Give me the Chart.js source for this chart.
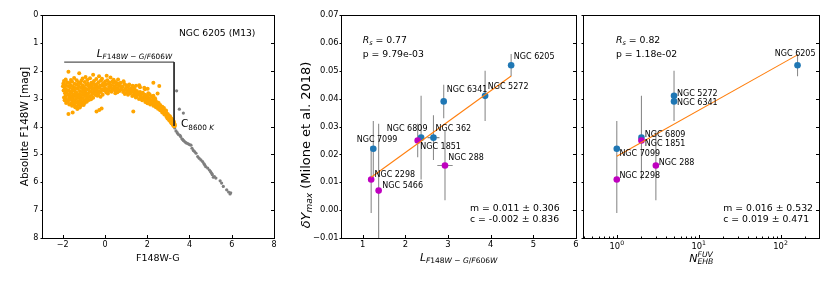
<!DOCTYPE html>
<html>
<head>
<meta charset="utf-8">
<script src="https://cdn.jsdelivr.net/npm/chart.js@4.4.0/dist/chart.umd.min.js"></script>
<style>
  body { margin: 0; background: #fff; }
  #wrap { position: relative; width: 830px; height: 298px; }
  #wrap canvas { position: absolute; left: 0; top: 0; }
</style>
</head>
<body>
<div id="wrap">
  <canvas id="cmd" width="830" height="298"></canvas>
  <canvas id="fitL" width="830" height="298"></canvas>
  <canvas id="fitN" width="830" height="298"></canvas>
</div>
<script>
// ---- panel 1: colour-magnitude diagram of NGC 6205 ----
const hbStars = [
  [-1.73,2.04],[-1.22,2.09],[-0.56,2.14],[-0.28,2.20],[0.08,2.18],[-0.92,2.22],[-1.46,2.26],[-0.71,2.27],[0.26,2.24],[-1.06,2.28],
  [-1.86,2.31],[-1.61,2.33],[-0.41,2.30],[0.41,2.32],[-0.14,2.29],[0.62,2.31],[-1.94,2.37],[-1.34,2.34],[-1.12,2.36],[-0.84,2.33],[-0.52,2.37],[-0.19,2.35],[0.11,2.34],[0.36,2.38],
  [-1.79,2.41],[-1.56,2.39],[-1.26,2.42],[-0.96,2.40],[-0.64,2.43],[-0.31,2.41],[0.01,2.39],[0.23,2.42],[0.51,2.40],[0.74,2.43],[0.88,2.38],
  [-1.97,2.46],[-1.69,2.44],[-1.44,2.47],[-1.16,2.45],[-0.81,2.46],[-0.56,2.44],[-0.39,2.48],[-0.09,2.45],[0.16,2.47],[0.39,2.44],[0.61,2.46],[0.91,2.47],[2.29,2.43],[1.15,2.49],
  [-1.88,2.51],[-1.61,2.52],[-1.34,2.50],[-1.06,2.53],[-0.89,2.50],[-0.69,2.52],[-0.46,2.51],[-0.21,2.53],[0.04,2.50],[0.29,2.52],[0.54,2.51],[0.71,2.53],[1.01,2.52],[1.62,2.52],
  [-1.99,2.56],[-1.76,2.55],[-1.51,2.57],[-1.24,2.55],[-1.01,2.58],[-0.76,2.56],[-0.61,2.54],[-0.36,2.57],[-0.06,2.55],[0.19,2.58],[0.44,2.56],[0.66,2.55],[0.84,2.57],[1.09,2.56],[2.57,2.55],[1.38,2.58],
  [1.31,2.54],[1.47,2.54],[1.66,2.59],[1.89,2.66],[2.05,2.81],[2.29,2.90],
  [-1.91,2.61],[-1.66,2.60],[-1.41,2.62],[-1.14,2.61],[-0.94,2.63],[-0.71,2.60],[-0.49,2.62],[-0.26,2.61],[0.01,2.63],[0.24,2.60],[0.49,2.62],[0.61,2.64],[0.79,2.61],[0.99,2.63],[1.24,2.62],[1.86,2.61],
  [-1.84,2.66],[-1.54,2.67],[-1.29,2.65],[-1.04,2.68],[-0.84,2.66],[-0.59,2.65],[-0.41,2.67],[-0.14,2.66],[0.11,2.68],[0.34,2.65],[0.56,2.67],[0.76,2.66],[0.96,2.68],[1.16,2.66],[1.41,2.67],[2.02,2.65],
  [-1.96,2.71],[-1.71,2.72],[-1.46,2.70],[-1.19,2.73],[-0.96,2.71],[-0.74,2.72],[-0.51,2.70],[-0.29,2.73],[-0.04,2.71],[0.21,2.72],[0.46,2.70],[0.69,2.73],[0.89,2.71],[1.11,2.72],[1.31,2.70],[1.51,2.73],
  [-1.81,2.76],[-1.59,2.75],[-1.36,2.77],[-1.09,2.76],[-0.91,2.78],[-0.66,2.75],[-0.39,2.77],[-0.19,2.76],[0.06,2.78],[0.31,2.75],[0.59,2.77],[0.86,2.76],[1.04,2.78],[1.26,2.75],[1.44,2.77],[1.66,2.76],[1.79,2.79],
  [-1.89,2.81],[-1.64,2.82],[-1.41,2.80],[-1.21,2.83],[-0.99,2.81],[-0.79,2.82],[-0.54,2.80],[-0.31,2.83],[0.14,2.82],[0.49,2.81],[0.94,2.83],[1.19,2.81],[1.39,2.82],[1.59,2.80],[1.74,2.83],[2.49,2.82],
  [-1.74,2.86],[-1.49,2.85],[-1.31,2.87],[-1.06,2.86],[-0.86,2.88],[-0.61,2.85],[-0.44,2.87],[-0.11,2.86],[1.09,2.86],[1.34,2.88],[1.54,2.85],[1.69,2.87],[1.89,2.86],[2.11,2.84],
  [-1.86,2.91],[-1.61,2.92],[-1.39,2.90],[-1.16,2.93],[-0.94,2.91],[-0.71,2.92],[-0.36,2.90],[1.29,2.91],[1.49,2.92],[1.66,2.90],[1.84,2.93],[1.99,2.91],[2.21,2.92],[-0.21,2.93],
  [-1.94,2.96],[-1.69,2.95],[-1.51,2.97],[-1.26,2.96],[-1.04,2.98],[-0.81,2.95],[-0.56,2.97],[1.46,2.96],[1.71,2.98],[1.89,2.95],[2.06,2.97],[2.37,2.99],
  [-1.84,3.01],[-1.59,3.02],[-1.36,3.00],[-1.14,3.03],[-0.89,3.01],[-0.66,3.02],[1.61,3.01],[1.81,3.02],[1.99,3.00],[2.14,3.03],[2.29,3.01],
  [-1.91,3.06],[-1.71,3.05],[-1.46,3.07],[-1.19,3.06],[-0.99,3.08],[-0.76,3.05],[1.76,3.06],[1.94,3.07],[2.09,3.05],[2.24,3.08],[2.39,3.06],
  [-1.76,3.11],[-1.54,3.12],[-1.29,3.10],[-1.09,3.13],[-0.86,3.11],[1.91,3.12],[2.04,3.10],[2.19,3.13],[2.34,3.11],[2.49,3.14],
  [-1.84,3.16],[-1.61,3.17],[-1.39,3.15],[-1.21,3.18],[-0.96,3.16],[2.01,3.17],[2.21,3.16],[2.39,3.18],[2.54,3.16],
  [-1.69,3.21],[-1.46,3.22],[-1.24,3.20],[-1.01,3.23],[2.14,3.21],[2.31,3.22],[2.49,3.20],[2.61,3.23],
  [-1.56,3.26],[-1.34,3.27],[-1.14,3.25],[2.29,3.26],[2.44,3.28],[2.59,3.26],[2.71,3.29],
  [-1.41,3.31],[-1.19,3.32],[2.41,3.31],[2.56,3.33],[2.69,3.31],[2.79,3.34],
  [-1.31,3.37],[-0.16,3.35],[2.51,3.36],[2.66,3.38],[2.79,3.40],[2.89,3.43],
  [-0.27,3.41],[2.61,3.42],[2.76,3.46],[2.89,3.49],[2.97,3.55],
  [-0.40,3.46],[1.34,3.46],[2.71,3.50],[2.86,3.54],[2.99,3.60],[3.06,3.62],
  [-1.53,3.50],[2.81,3.57],[2.94,3.62],[3.09,3.66],
  [-1.73,3.55],[2.91,3.65],[3.01,3.69],[3.14,3.71],
  [2.96,3.71],[3.11,3.75],[3.19,3.76],
  [3.04,3.78],[3.18,3.81],[3.26,3.82],
  [3.10,3.83],[3.24,3.86],
  [3.15,3.88],[3.28,3.89],
  [3.20,3.92],[3.30,3.93],
  [3.23,3.96],[3.31,3.97],
  [3.27,3.99]
];
const coolStars = [
  [3.39,2.72],[3.52,3.38],[3.71,3.52],[3.27,4.00],[3.30,4.05],[3.36,4.16],[3.42,4.22],[3.47,4.28],[3.55,4.32],
  [3.58,4.36],[3.64,4.44],[3.68,4.47],[3.71,4.50],[3.77,4.54],[3.83,4.58],[3.88,4.60],[3.94,4.62],[4.00,4.65],
  [4.07,4.67],[4.12,4.78],[4.18,4.86],[4.24,4.90],[4.31,4.96],[4.39,5.08],[4.46,5.14],[4.54,5.20],[4.62,5.26],
  [4.68,5.33],[4.72,5.38],[4.77,5.44],[4.86,5.49],[4.94,5.56],[5.00,5.62],[5.05,5.68],[5.08,5.73],[5.13,5.82],
  [5.18,5.80],[5.25,5.85],[5.45,5.95],[5.52,6.03],[5.60,6.15],[5.76,6.27],[5.85,6.35],[5.92,6.42],[5.95,6.38]
];
const bracketX = [-1.93, 3.27, 3.27];
const bracketY = [1.69, 1.69, 3.98];
const cmdXTicks = [-2, 0, 2, 4, 6, 8];
const cmdYTicks = [0, 1, 2, 3, 4, 5, 6, 7, 8];

// ---- panels 2 and 3: helium spread vs HB length / number of EHB stars ----
const clusters  = ['NGC 6205','NGC 5272','NGC 6341','NGC 362','NGC 6809','NGC 1851','NGC 7099','NGC 2298','NGC 5466','NGC 288'];
const hbLength  = [4.48, 3.87, 2.90, 2.66, 2.37, 2.29, 1.25, 1.20, 1.375, 2.93];
const hbLenErr  = [0, 0, 0, 0.14, 0, 0, 0, 0, 0, 0.18];
const nEHB      = [161, 5, 5, null, 2, 2, 1, 1, null, 3];
const deltaY    = [0.052, 0.041, 0.039, 0.026, 0.026, 0.025, 0.022, 0.011, 0.007, 0.016];
const deltaYErr = [0.004, 0.009, 0.006, 0.008, 0.015, 0.006, 0.010, 0.012, 0.024, 0.0125];
const group     = ['a','a','a','a','a','b','a','b','b','b'];
const fitLX = [1.2, 4.48],  fitLY = [0.0118, 0.0481];
const fitNX = [1, 161],     fitNY = [0.0193, 0.0557];
const dyTicks  = [-0.01, 0, 0.01, 0.02, 0.03, 0.04, 0.05, 0.06, 0.07];
const lenTicks = [1, 2, 3, 4, 5, 6];
const nTicks   = [1, 10, 100];
const nTickExp = ['0', '1', '2'];
const nMinor   = [0.4,0.5,0.6,0.7,0.8,0.9,2,3,4,5,6,7,8,9,20,30,40,50,60,70,80,90,200];
const statsL = { r: '0.77', p: '9.79e-03', m: '0.011 ± 0.306', c: '-0.002 ± 0.836' };
const statsN = { r: '0.82', p: '1.18e-02', m: '0.016 ± 0.532', c: '0.019 ± 0.471' };

// label offsets in pixels from the marker (text left, middle)
const offsL = {
  'NGC 6205': [2.7, -8], 'NGC 5272': [2.7, -8.6], 'NGC 6341': [3, -11], 'NGC 362': [2, -8.7],
  'NGC 6809': [-34.3, -8.7], 'NGC 1851': [2.6, 6], 'NGC 7099': [-16.6, -8.6], 'NGC 2298': [3.3, -4.3],
  'NGC 5466': [3.7, -4.6], 'NGC 288': [3.3, -8]
};
const offsN = {
  'NGC 6205': [-22.7, -11.3], 'NGC 5272': [3, -2.3], 'NGC 6341': [3, 1.3], 'NGC 6809': [3.3, -2.7],
  'NGC 1851': [3.3, 3.7], 'NGC 7099': [2.6, 5.3], 'NGC 288': [3, -2.4], 'NGC 2298': [2.6, -3.3]
};

const FONT = '"DejaVu Sans", sans-serif';
Chart.defaults.font.family = FONT;
Chart.defaults.color = '#000';
const groupColor = { a: '#1f77b4', b: '#bf00bf' };
const ERR = '#8c8c8c';

const fontOf = p => (p.it ? 'italic ' : '') + p.s + 'px ' + FONT;
function richWidth(ctx, parts) {
  let w = 0;
  for (const p of parts) { ctx.font = fontOf(p); if (!p.over) w += ctx.measureText(p.t).width; }
  return w;
}
function drawRich(ctx, x, y, parts, rot) {
  ctx.save();
  ctx.translate(x, y);
  if (rot) ctx.rotate(rot);
  ctx.fillStyle = '#000';
  ctx.textAlign = 'left';
  ctx.textBaseline = 'alphabetic';
  let cx = 0;
  for (const p of parts) {
    ctx.font = fontOf(p);
    ctx.fillText(p.t, cx, p.dy || 0);
    if (!p.over) cx += ctx.measureText(p.t).width;
  }
  ctx.restore();
}
// mathtext-like: letters italic, digits and symbols upright
function mathParts(str, s, dy) {
  return str.match(/[A-Za-z]+|[^A-Za-z]+/g).map(t => ({ t, s, dy, it: /[A-Za-z]/.test(t) }));
}

function frameAndTicks(ctx, a) {
  ctx.save();
  ctx.strokeStyle = '#000';
  ctx.lineWidth = 1;
  const l = Math.round(a.left) + 0.5, t = Math.round(a.top) + 0.5;
  const r = Math.round(a.right) + 0.5, b = Math.round(a.bottom) + 0.5;
  ctx.strokeRect(l, t, r - l, b - t);
  ctx.restore();
  return { l, t, r, b };
}
function ticks(ctx, f, scale, vals, side, len) {
  ctx.save();
  ctx.strokeStyle = '#000';
  ctx.lineWidth = 1;
  ctx.beginPath();
  for (const v of vals) {
    const p = Math.round(scale.getPixelForValue(v)) + 0.5;
    if (side === 'bottom') { ctx.moveTo(p, f.b); ctx.lineTo(p, f.b - len); }
    else if (side === 'left') { ctx.moveTo(f.l, p); ctx.lineTo(f.l + len, p); }
    else { ctx.moveTo(f.r, p); ctx.lineTo(f.r - len, p); }
  }
  ctx.stroke();
  ctx.restore();
}

function fixed(list) { return s => { s.ticks = list.map(v => ({ value: v })); }; }
const minus = v => (v < 0 ? '\u2212' + Math.abs(v) : String(v));
const base = { responsive: false, animation: false, events: [], devicePixelRatio: 1,
  plugins: { legend: { display: false }, tooltip: { enabled: false } } };
const noGrid = { grid: { display: false, drawTicks: false }, border: { display: false } };

// ---------------- panel 1 ----------------
new Chart(document.getElementById('cmd'), {
  type: 'scatter',
  data: { datasets: [
    { data: bracketX.map((x, i) => ({ x, y: bracketY[i] })), showLine: true, borderColor: '#2a2a2a',
      borderWidth: 1, pointRadius: 0, order: 0 },
    { data: hbStars.map(([x, y]) => ({ x, y })), backgroundColor: '#ffa500', borderWidth: 0, pointRadius: 2, order: 1 },
    { data: coolStars.map(([x, y]) => ({ x, y })), backgroundColor: '#7f7f7f', borderWidth: 0, pointRadius: 1.6, order: 2 }
  ] },
  options: Object.assign({}, base, {
    layout: { padding: { left: 0, top: 15, right: 556, bottom: 0 } },
    scales: {
      x: Object.assign({ type: 'linear', min: -3, max: 8, afterBuildTicks: fixed(cmdXTicks),
        afterFit: s => { s.height = 60; },
        ticks: { font: { size: 8 }, padding: 2, maxRotation: 0, autoSkip: false, callback: minus } }, noGrid),
      y: Object.assign({ type: 'linear', min: 0, max: 8, reverse: true, afterBuildTicks: fixed(cmdYTicks),
        afterFit: s => { s.width = 41.6; },
        ticks: { font: { size: 8 }, padding: 3.3, autoSkip: false, callback: minus } }, noGrid)
    }
  }),
  plugins: [{
    id: 'cmdDeco',
    afterDraw(chart) {
      const ctx = chart.ctx, a = chart.chartArea, sx = chart.scales.x, sy = chart.scales.y;
      const f = frameAndTicks(ctx, a);
      ticks(ctx, f, sx, cmdXTicks, 'bottom', 3.5);
      ticks(ctx, f, sy, cmdYTicks, 'right', 3.5);
      ticks(ctx, f, sy, cmdYTicks, 'left', -2);
      drawRich(ctx, 179, 36.4, [{ t: 'NGC 6205 (M13)', s: 9.2 }]);
      drawRich(ctx, 96.7, 57.3, [{ t: 'L', s: 10.5, it: true }].concat(mathParts('F148W \u2212 G/F606W', 7.3, 2)));
      drawRich(ctx, 181, 127.3, [{ t: 'C', s: 10.5 }].concat(mathParts('8600 K', 7.3, 2.2)));
      const xt = [{ t: 'F148W-G', s: 9.5 }];
      drawRich(ctx, (a.left + a.right) / 2 - richWidth(ctx, xt) / 2, 260.5, xt);
      const yt = [{ t: 'Absolute F148W [mag]', s: 10.4 }];
      drawRich(ctx, 28.3, (a.top + a.bottom) / 2 + richWidth(ctx, yt) / 2, yt, -Math.PI / 2);
    }
  }]
});

// ---------------- helpers for panels 2 and 3 ----------------
function errSegments(xs, errX, errY) {
  const out = [];
  clusters.forEach((_, i) => {
    const x = xs[i], y = deltaY[i];
    if (x == null) return;
    if (errY && errY[i]) out.push({ x, y: y - errY[i] }, { x, y: y + errY[i] }, { x, y: null });
    if (errX && errX[i]) out.push({ x: x - errX[i], y }, { x: x + errX[i], y }, { x, y: null });
  });
  return out;
}
function groupPoints(xs, g) {
  return clusters.map((_, i) => ({ x: xs[i], y: deltaY[i], g: group[i] }))
    .filter(p => p.x != null && p.g === g);
}
function fitDatasets(xs, errX, fx, fy) {
  return [
    { data: fx.map((x, i) => ({ x, y: fy[i] })), showLine: true, borderColor: '#ff7f0e', borderWidth: 1.1, pointRadius: 0, order: 0 },
    { data: groupPoints(xs, 'b'), backgroundColor: groupColor.b, borderWidth: 0, pointRadius: 3.3, order: 1 },
    { data: groupPoints(xs, 'a'), backgroundColor: groupColor.a, borderWidth: 0, pointRadius: 3.3, order: 2 },
    { data: errSegments(xs, errX, deltaYErr), showLine: true, spanGaps: false, borderColor: ERR, borderWidth: 1.1, pointRadius: 0, order: 3 }
  ];
}
function labelsAndStats(chart, xs, offs, stats) {
  const ctx = chart.ctx, a = chart.chartArea, sx = chart.scales.x, sy = chart.scales.y;
  ctx.save();
  ctx.font = '8px ' + FONT;
  ctx.fillStyle = '#000';
  ctx.textBaseline = 'middle';
  clusters.forEach((name, i) => {
    if (xs[i] == null || !offs[name]) return;
    const px = sx.getPixelForValue(xs[i]), py = sy.getPixelForValue(deltaY[i]);
    ctx.fillText(name, px + offs[name][0], py + offs[name][1]);
  });
  ctx.restore();
  const sl = stats.left, sm = stats.mLeft;
  drawRich(ctx, a.left + sl, 43.4, [{ t: 'R', s: 9.3, it: true }, { t: 's', s: 6.5, it: true, dy: 2 }, { t: ' = ' + stats.v.r, s: 9.3 }]);
  drawRich(ctx, a.left + sl, 56.7, [{ t: 'p = ' + stats.v.p, s: 9.3 }]);
  drawRich(ctx, a.left + sm, 211.1, [{ t: 'm = ' + stats.v.m, s: 9.3 }]);
  drawRich(ctx, a.left + sm, 221.7, [{ t: 'c = ' + stats.v.c, s: 9.3 }]);
}
const yAxis = extra => Object.assign({ type: 'linear', min: -0.01, max: 0.07, afterBuildTicks: fixed(dyTicks),
  afterFit: s => { s.width = 40; } }, noGrid, extra);

// ---------------- panel 2 ----------------
new Chart(document.getElementById('fitL'), {
  type: 'scatter',
  data: { datasets: fitDatasets(hbLength, hbLenErr, fitLX, fitLY) },
  options: Object.assign({}, base, {
    layout: { padding: { left: 301.3, top: 15, right: 254, bottom: 0 } },
    scales: {
      x: Object.assign({ type: 'linear', min: 0.5, max: 6, afterBuildTicks: fixed(lenTicks),
        afterFit: s => { s.height = 60; },
        ticks: { font: { size: 8.4 }, padding: 2, maxRotation: 0, autoSkip: false } }, noGrid),
      y: yAxis({ ticks: { font: { size: 8.4 }, padding: 2.6, autoSkip: false,
        callback: v => (v < 0 ? '\u2212' : '') + Math.abs(v).toFixed(2) } })
    }
  }),
  plugins: [{
    id: 'lenDeco',
    afterDraw(chart) {
      const ctx = chart.ctx, a = chart.chartArea, sx = chart.scales.x, sy = chart.scales.y;
      const f = frameAndTicks(ctx, a);
      ticks(ctx, f, sx, lenTicks.filter(v => v < 6), 'bottom', 3.5);
      ticks(ctx, f, sy, dyTicks, 'right', 3.5);
      ticks(ctx, f, sy, dyTicks, 'left', -2);
      labelsAndStats(chart, hbLength, offsL, { left: 21.4, mLeft: 128.7, v: statsL });
      const xt = [{ t: 'L', s: 10.8, it: true }].concat(mathParts('F148W \u2212 G/F606W', 7.5, 2));
      drawRich(ctx, (a.left + a.right) / 2 - richWidth(ctx, xt) / 2, 261, xt);
      const yt = [{ t: '\u03b4', s: 13, it: true }, { t: 'Y', s: 13, it: true },
        { t: 'max', s: 9, it: true, dy: 2.6 }, { t: ' (Milone et al. 2018)', s: 13 }];
      drawRich(ctx, 309.5, 145 + richWidth(ctx, yt) / 2, yt, -Math.PI / 2);
    }
  }]
});

// ---------------- panel 3 ----------------
new Chart(document.getElementById('fitN'), {
  type: 'scatter',
  data: { datasets: fitDatasets(nEHB, null, fitNX, fitNY) },
  options: Object.assign({}, base, {
    layout: { padding: { left: 543.3, top: 15, right: 10.7, bottom: 0 } },
    scales: {
      x: Object.assign({ type: 'logarithmic', min: 0.39, max: 297, afterBuildTicks: fixed(nTicks),
        afterFit: s => { s.height = 60; }, ticks: { display: false } }, noGrid),
      y: yAxis({ ticks: { display: false } })
    }
  }),
  plugins: [{
    id: 'nDeco',
    afterDraw(chart) {
      const ctx = chart.ctx, a = chart.chartArea, sx = chart.scales.x, sy = chart.scales.y;
      const f = frameAndTicks(ctx, a);
      ticks(ctx, f, sx, nTicks, 'bottom', 3.5);
      ticks(ctx, f, sx, nMinor, 'bottom', 2);
      ticks(ctx, f, sy, dyTicks, 'right', 3.5);
      ticks(ctx, f, sy, dyTicks, 'left', -2);
      nTicks.forEach((v, i) => {
        const lab = [{ t: '10', s: 8.4 }, { t: nTickExp[i], s: 6.2, dy: -3.8 }];
        drawRich(ctx, sx.getPixelForValue(v) - richWidth(ctx, lab) / 2, 249, lab);
      });
      labelsAndStats(chart, nEHB, offsN, { left: 32.7, mLeft: 140, v: statsN });
      const xt = [{ t: 'N', s: 11, it: true }, { t: 'FUV', s: 7.7, it: true, dy: -4.6, over: true },
        { t: 'EHB', s: 7.7, it: true, dy: 2.4 }];
      drawRich(ctx, (a.left + a.right) / 2 - richWidth(ctx, xt) / 2, 261.5, xt);
    }
  }]
});
</script>
</body>
</html>
